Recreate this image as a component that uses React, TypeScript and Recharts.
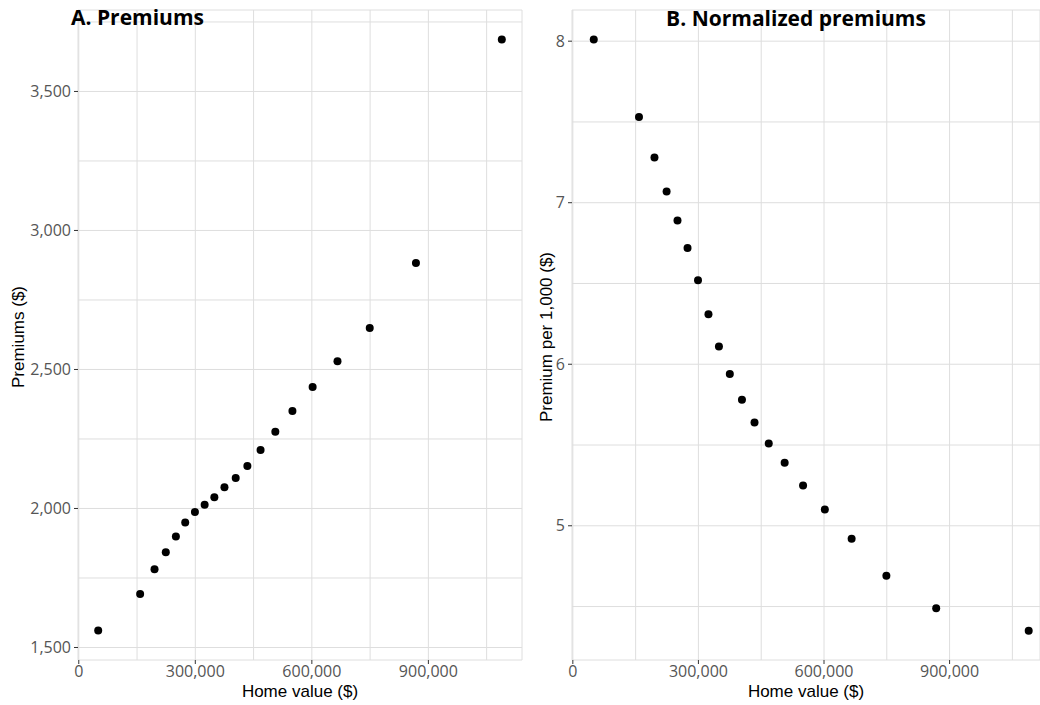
import { ScatterChart, Scatter, XAxis, YAxis, CartesianGrid } from 'recharts';

// Home values ($) shared by both panels
const homeValues = [
  50000, 158000, 195000, 224000, 250000, 274000, 299000, 324000, 349000, 375000,
  404000, 434000, 468000, 506000, 550000, 602000, 666000, 749000, 868000, 1089000,
];
// A. annual premiums ($)
const premiums = [
  1561, 1692, 1781, 1843, 1899, 1950, 1987, 2013, 2040, 2076,
  2110, 2153, 2210, 2276, 2351, 2437, 2530, 2649, 2883, 3687,
];
// B. premium per 1,000 of home value ($)
const normalized = [
  8.01, 7.53, 7.28, 7.07, 6.89, 6.72, 6.52, 6.31, 6.11, 5.94,
  5.78, 5.64, 5.51, 5.39, 5.25, 5.1, 4.92, 4.69, 4.49, 4.35,
];

const xGridTicks = [0, 150000, 300000, 450000, 600000, 750000, 900000, 1050000];
const xLabelTicks = [0, 300000, 600000, 900000];
const premiumGridTicks = [1500, 1750, 2000, 2250, 2500, 2750, 3000, 3250, 3500, 3750];
const premiumLabelTicks = [1500, 2000, 2500, 3000, 3500];
const normGridTicks = [4.5, 5, 5.5, 6, 6.5, 7, 7.5, 8];
const normLabelTicks = [5, 6, 7, 8];

const premiumData = homeValues.map((v, i) => ({ value: v, premium: premiums[i] }));
const normData = homeValues.map((v, i) => ({ value: v, norm: normalized[i] }));

const TICK_FONT = '"Open Sans", sans-serif';
const LABEL_FONT = '"Liberation Sans", Arial, sans-serif';
const TICK_COLOR = '#555';
const GRID_COLOR = '#dedede';
const TICK_SIZE = 4;

const fmt = (v: number) => v.toLocaleString('en-US');

const XTick = (props: any) => {
  const { x, y, payload } = props;
  if (!xLabelTicks.includes(payload.value)) return <g />;
  return (
    <g>
      <line x1={x} x2={x} y1={y - 6} y2={y - 2} stroke="#333" strokeWidth={1} />
      <text x={x} y={y} dy="0.71em" textAnchor="middle" fill={TICK_COLOR} fontSize={16} fontFamily={TICK_FONT}>
        {fmt(payload.value)}
      </text>
    </g>
  );
};

const makeYTick = (labels: number[]) => (props: any) => {
  const { x, y, payload } = props;
  if (!labels.includes(payload.value)) return <g />;
  return (
    <g>
      <line x1={x + 3} x2={x + 7} y1={y} y2={y} stroke="#333" strokeWidth={1} />
      <text x={x} y={y} dy="0.355em" textAnchor="end" fill={TICK_COLOR} fontSize={16} fontFamily={TICK_FONT}>
        {fmt(payload.value)}
      </text>
    </g>
  );
};

const PremiumTick = makeYTick(premiumLabelTicks);
const NormTick = makeYTick(normLabelTicks);

const Dot = (props: any) => <circle cx={props.cx} cy={props.cy} r={4} fill="#000" />;

const yTitle = (text: string, x: number, y: number) => () => (
  <text
    x={-y}
    y={x}
    transform="rotate(-90)"
    textAnchor="middle"
    fill="#000"
    fontSize={17}
    fontFamily={LABEL_FONT}
  >
    {text}
  </text>
);

const xTitle = {
  value: 'Home value ($)',
  position: 'insideBottom' as const,
  offset: 8,
  fill: '#000',
  fontSize: 17,
  fontFamily: LABEL_FONT,
};

export default function App() {
  return (
    <div style={{ position: 'absolute', left: 0, top: 0, width: 1040, height: 705, overflow: 'hidden', background: '#fff' }}>
      <div style={{ position: 'absolute', left: 0, top: 0 }}>
        <ScatterChart width={530} height={705} margin={{ top: 10, right: 8, bottom: 0, left: 0 }}>
          <CartesianGrid stroke={GRID_COLOR} />
          <XAxis
            type="number"
            dataKey="value"
            domain={[-2000, 1141000]}
            allowDataOverflow
            ticks={xGridTicks}
            interval={0}
            height={45}
            axisLine={false}
            tickLine={false}
            tickSize={TICK_SIZE}
            tickMargin={2}
            tick={<XTick />}
            label={xTitle}
          />
          <YAxis
            type="number"
            dataKey="premium"
            domain={[1455, 3793]}
            allowDataOverflow
            ticks={premiumGridTicks}
            interval={0}
            width={78}
            axisLine={false}
            tickLine={false}
            tickSize={TICK_SIZE}
            tickMargin={3}
            tick={<PremiumTick />}
            label={{ content: yTitle('Premiums ($)', 24, 337) }}
          />
          <Scatter data={premiumData} shape={<Dot />} isAnimationActive={false} />
        </ScatterChart>
      </div>
      <div style={{ position: 'absolute', left: 530, top: 0 }}>
        <ScatterChart width={510} height={705} margin={{ top: 10, right: 0, bottom: 0, left: 0 }}>
          <CartesianGrid stroke={GRID_COLOR} />
          <XAxis
            type="number"
            dataKey="value"
            domain={[-2000, 1116000]}
            allowDataOverflow
            ticks={xGridTicks}
            interval={0}
            height={45}
            axisLine={false}
            tickLine={false}
            tickSize={TICK_SIZE}
            tickMargin={2}
            tick={<XTick />}
            label={xTitle}
          />
          <YAxis
            type="number"
            dataKey="norm"
            domain={[4.169, 8.193]}
            allowDataOverflow
            ticks={normGridTicks}
            interval={0}
            width={42}
            axisLine={false}
            tickLine={false}
            tickSize={TICK_SIZE}
            tickMargin={3}
            tick={<NormTick />}
            label={{ content: yTitle('Premium per 1,000 ($)', 22, 337) }}
          />
          <Scatter data={normData} shape={<Dot />} isAnimationActive={false} />
        </ScatterChart>
      </div>
      <svg width={1040} height={705} style={{ position: 'absolute', left: 0, top: 0, pointerEvents: 'none' }}>
        <text x={71} y={25} fontSize={21} fontWeight="bold" fontFamily={TICK_FONT} fill="#000">
          A. Premiums
        </text>
        <text x={796} y={26} textAnchor="middle" fontSize={21} fontWeight="bold" fontFamily={TICK_FONT} fill="#000">
          B. Normalized premiums
        </text>
      </svg>
    </div>
  );
}
